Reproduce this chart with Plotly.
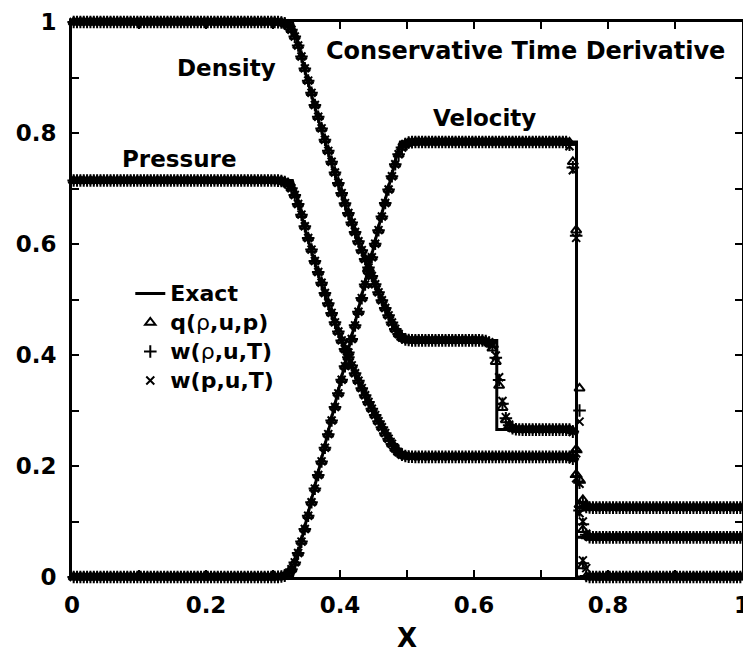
import numpy as np
import plotly.graph_objects as go

# ---------------------------------------------------------------
# Sod shock tube at the output time: exact solution and three
# discretisations (200 cells), density / velocity / pressure
# ---------------------------------------------------------------
N_CELLS = 200
x_cells = (np.arange(N_CELLS) + 0.5) / N_CELLS

# constant states
RHO_L, RHO_2, RHO_3, RHO_R = 1.0, 0.4263, 0.2656, 0.125
U_L, U_STAR, U_R = 0.0, 0.7838, 0.0
P_L, P_STAR, P_R = 0.7143, 0.2165, 0.0714

# exact solution break points (head, fan samples, tail, contact, shock)
x_exact = [0.0, 0.329, 0.349, 0.369, 0.389, 0.409, 0.429, 0.449, 0.469, 0.490,
           0.634, 0.634, 0.753, 0.753, 1.0]
rho_exact = [1.0, 1.0, 0.9057, 0.8187, 0.7385, 0.6648, 0.5969, 0.5348, 0.4780, 0.4263,
             0.4263, 0.2656, 0.2656, 0.125, 0.125]
u_exact = [0.0, 0.0, 0.0980, 0.1961, 0.2941, 0.3922, 0.4902, 0.5882, 0.6863, 0.7838,
           0.7838, 0.7838, 0.7838, 0.0, 0.0]
p_exact = [0.7143, 0.7143, 0.6218, 0.5398, 0.4673, 0.4033, 0.3469, 0.2974, 0.2541, 0.2165,
           0.2165, 0.2165, 0.2165, 0.0714, 0.0714]

# computed values in the rarefaction fan, cells 60..101
rho_fan = [1.0, 0.9998, 0.9992, 0.9975, 0.9936, 0.9861, 0.9740, 0.9576, 0.9378, 0.9164, 0.8943,
           0.8723, 0.8505, 0.8292, 0.8083, 0.7879, 0.7678, 0.7482, 0.7289, 0.7101, 0.6917,
           0.6736, 0.6559, 0.6386, 0.6217, 0.6051, 0.5889, 0.5730, 0.5575, 0.5423, 0.5274,
           0.5129, 0.4987, 0.4848,
           0.4714, 0.4585, 0.4470, 0.4377, 0.4315, 0.4282, 0.4269, 0.4264]
u_fan = [0.0, 0.0002, 0.0008, 0.0025, 0.0064, 0.0140, 0.0263, 0.0432, 0.0638, 0.0866, 0.1105,
         0.1348, 0.1593, 0.1838, 0.2083, 0.2329, 0.2574, 0.2819, 0.3064, 0.3309, 0.3554,
         0.3799, 0.4044, 0.4289, 0.4534, 0.4779, 0.5025, 0.5270, 0.5515, 0.5760, 0.6005,
         0.6250, 0.6495, 0.6740,
         0.6983, 0.7220, 0.7438, 0.7616, 0.7737, 0.7802, 0.7828, 0.7836]
p_fan = [0.7143, 0.7141, 0.7135, 0.7118, 0.7079, 0.7004, 0.6884, 0.6722, 0.6529, 0.6321, 0.6108,
         0.5899, 0.5694, 0.5495, 0.5303, 0.5116, 0.4934, 0.4759, 0.4588, 0.4423, 0.4263,
         0.4108, 0.3958, 0.3813, 0.3672, 0.3535, 0.3403, 0.3276, 0.3152, 0.3033, 0.2917,
         0.2805, 0.2697, 0.2592,
         0.2492, 0.2398, 0.2314, 0.2247, 0.2202, 0.2179, 0.2169, 0.2166]

# density across the contact, cells 121..133
rho_contact_q = [0.4262, 0.4258, 0.4248, 0.4215, 0.4120, 0.3880, 0.3450, 0.3050, 0.2830,
                 0.2720, 0.2675, 0.2662, 0.2657]
rho_contact_wr = [0.4263, 0.4260, 0.4252, 0.4225, 0.4150, 0.3950, 0.3550, 0.3120, 0.2860,
                  0.2735, 0.2680, 0.2663, 0.2657]
rho_contact_wp = [0.4263, 0.4261, 0.4255, 0.4232, 0.4165, 0.3990, 0.3600, 0.3170, 0.2880,
                  0.2745, 0.2685, 0.2665, 0.2658]

# density across the shock, cells 148..154
rho_shock_q = [0.2656, 0.2630, 0.2300, 0.1750, 0.1390, 0.1270, 0.1252]
rho_shock_wr = [0.2655, 0.2620, 0.2250, 0.1700, 0.1330, 0.1260, 0.1251]
rho_shock_wp = [0.2654, 0.2610, 0.2230, 0.1680, 0.1320, 0.1258, 0.1251]

# velocity across the shock, cells 147..154
u_shock_q = [0.7838, 0.7830, 0.7480, 0.6250, 0.3400, 0.0200, 0.0005, 0.0]
u_shock_wr = [0.7836, 0.7790, 0.7380, 0.6150, 0.3000, 0.0250, 0.0020, 0.0]
u_shock_wp = [0.7835, 0.7760, 0.7330, 0.6110, 0.2800, 0.0300, 0.0160, 0.0010]

# pressure across the shock, cells 148..154
p_shock_q = [0.2165, 0.2140, 0.1850, 0.1300, 0.0850, 0.0740, 0.0716]
p_shock_wr = [0.2164, 0.2130, 0.1800, 0.1200, 0.0950, 0.0760, 0.0718]
p_shock_wp = [0.2163, 0.2120, 0.1780, 0.1150, 0.1000, 0.0780, 0.0720]

tick_values = [0, 0.2, 0.4, 0.6, 0.8, 1]
tick_text = ["0", "0.2", "0.4", "0.6", "0.8", "1"]


def density(contact, shock):
    return ([RHO_L] * 60 + rho_fan + [RHO_2] * 19 + contact + [RHO_3] * 14
            + shock + [RHO_R] * 45)


def velocity(shock):
    return [U_L] * 60 + u_fan + [U_STAR] * 45 + shock + [U_R] * 45


def pressure(shock):
    return [P_L] * 60 + p_fan + [P_STAR] * 46 + shock + [P_R] * 45


def legend_name(html):
    return '<span style="font-size:22px">' + html + "</span>"


schemes = [
    (legend_name("<b>q(</b>ρ<b>,u,p)</b>"), "triangle-up-open", 9,
     density(rho_contact_q, rho_shock_q), velocity(u_shock_q), pressure(p_shock_q)),
    (legend_name("<b>w(</b>ρ<b>,u,T)</b>"), "cross-thin-open", 9,
     density(rho_contact_wr, rho_shock_wr), velocity(u_shock_wr), pressure(p_shock_wr)),
    (legend_name("<b>w(p,u,T)</b>"), "x-thin-open", 8,
     density(rho_contact_wp, rho_shock_wp), velocity(u_shock_wp), pressure(p_shock_wp)),
]

fig = go.Figure()

xs_ex = x_exact + [None] + x_exact + [None] + x_exact
ys_ex = rho_exact + [None] + u_exact + [None] + p_exact
fig.add_trace(go.Scatter(x=xs_ex, y=ys_ex, mode="lines", name=legend_name("<b>Exact</b>"),
                         line=dict(color="black", width=3), cliponaxis=False))

xc = list(x_cells)
for name, symbol, size, rho, u, p in schemes:
    fig.add_trace(go.Scatter(
        x=xc * 3, y=rho + u + p, mode="markers", name=name,
        marker=dict(symbol=symbol, size=size, color="black",
                    line=dict(color="black", width=2)),
        cliponaxis=False))

axis_common = dict(
    range=[0, 1], tickmode="array", tickvals=tick_values, ticktext=tick_text,
    ticks="inside", ticklen=7, tickwidth=1.5, tickcolor="black",
    minor=dict(dtick=0.1, tick0=0, ticks="inside", ticklen=7, tickwidth=1.5,
               tickcolor="black"),
    showline=True, linewidth=3, linecolor="black", mirror="ticks",
    showgrid=False, zeroline=False, ticklabeloverflow="allow", automargin=False,
    tickfont=dict(family="DejaVu Sans", size=23, color="black", weight="bold"),
)

fig.update_xaxes(**axis_common, ticklabelstandoff=5,
                 title=dict(text="X", font=dict(family="DejaVu Sans", size=26,
                                                color="black", weight="bold"),
                            standoff=20))
fig.update_yaxes(**axis_common, ticklabelstandoff=8)

label_font = dict(family="DejaVu Sans", size=23, color="black", weight="bold")
labels = [
    ("Conservative Time Derivative", 0.677, 0.947, 24),
    ("Density", 0.231, 0.917, 23),
    ("Pressure", 0.161, 0.753, 23),
    ("Velocity", 0.616, 0.827, 23),
]
for text, lx, ly, fs in labels:
    fig.add_annotation(x=lx, y=ly, xref="x", yref="y", text=text, showarrow=False,
                       font=dict(label_font, size=fs), xanchor="center", yanchor="middle")

fig.update_layout(
    width=743, height=653,
    margin=dict(l=72, r=1, t=22, b=76),
    plot_bgcolor="white", paper_bgcolor="white",
    font=dict(family="DejaVu Sans", color="black"),
    legend=dict(x=0.087, y=0.546, xanchor="left", yanchor="top",
                bgcolor="rgba(0,0,0,0)", itemwidth=30,
                font=dict(family="DejaVu Sans", size=20, color="black")),
)

fig.write_html("out.html")
